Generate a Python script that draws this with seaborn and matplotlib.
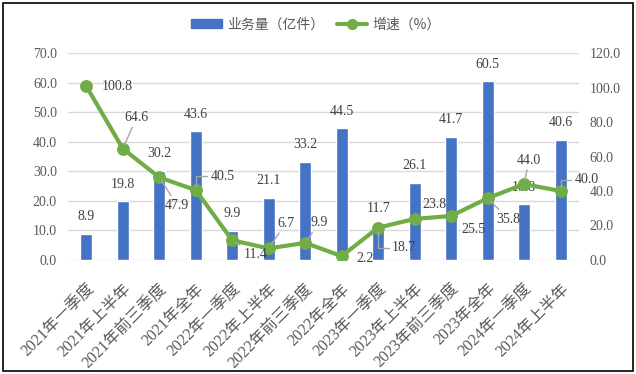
import matplotlib
matplotlib.use("Agg")
import matplotlib.pyplot as plt
from matplotlib.lines import Line2D
from matplotlib.patches import Patch, Rectangle
import seaborn as sns
import pandas as pd

periods = ["2021年一季度", "2021年上半年", "2021年前三季度", "2021年全年",
           "2022年一季度", "2022年上半年", "2022年前三季度", "2022年全年",
           "2023年一季度", "2023年上半年", "2023年前三季度", "2023年全年",
           "2024年一季度", "2024年上半年"]
volume = [8.9, 19.8, 30.2, 43.6, 9.9, 21.1, 33.2, 44.5, 11.7, 26.1, 41.7, 60.5, 18.8, 40.6]
growth = [100.8, 64.6, 47.9, 40.5, 11.4, 6.7, 9.9, 2.2, 18.7, 23.8, 25.5, 35.8, 44.0, 40.0]

df = pd.DataFrame({"period": periods, "volume": volume, "growth": growth})

sns.set_theme(style="white")
plt.rcParams["font.family"] = ["Liberation Serif", "Noto Sans CJK SC"]

BAR = "#4472C4"
LINE = "#70AD47"
TXT = "#404040"
GRID = "#D9D9D9"

fig = plt.figure(figsize=(6.36, 3.74), dpi=100)
ax = fig.add_axes([0.107, 0.305, 0.803, 0.553])

sns.barplot(data=df, x="period", y="volume", color=BAR, width=0.33,
            saturation=1, ax=ax, zorder=2)
ax.set_ylim(0, 70)
ax.set_yticks(range(0, 71, 10))
ax.set_yticklabels([f"{v:.1f}" for v in range(0, 71, 10)])
ax.grid(axis="y", color=GRID, linewidth=1, zorder=0)
ax.set_axisbelow(True)
for s in ax.spines.values():
    s.set_visible(False)
ax.set_xlabel("")
ax.set_ylabel("")
ax.tick_params(axis="y", length=0, labelsize=10, labelcolor="#595959", pad=8)
ax.tick_params(axis="x", length=0, labelsize=11.5, labelcolor="#595959", pad=15)
plt.setp(ax.get_xticklabels(), rotation=45, ha="right", rotation_mode="anchor")

for i, v in enumerate(volume):
    ax.annotate(f"{v:.1f}", (i, v), xytext=(0, 17), textcoords="offset pixels",
                ha="center", va="center", fontsize=10, color=TXT)

ax2 = ax.twinx()
sns.pointplot(data=df, x="period", y="growth", color=LINE, ax=ax2,
              markers="o", markersize=7, linewidth=3)
ax2.set_ylim(0, 120)
ax2.set_yticks(range(0, 121, 20))
ax2.set_yticklabels([f"{v:.1f}" for v in range(0, 121, 20)])
for s in ax2.spines.values():
    s.set_visible(False)
ax2.set_ylabel("")
ax2.tick_params(axis="y", length=0, labelsize=10, labelcolor="#595959", pad=8)
ax.set_xlim(-0.5, len(periods) - 0.5)
ax2.set_xlim(-0.5, len(periods) - 0.5)

# label offsets in pixels (dx right, dy down) and leader style
offsets = [(31, 0, None), (14, -31, "arc3"), (18, 28, "arc3"), (27, -14, "elbow"),
           (23, 14, "arc3"), (17, -25, "arc3"), (14, -20, "arc3"), (23, 2, None),
           (26, 20, "elbow"), (20, -14, None), (22, 14, None), (21, 21, "arc3"),
           (5, -24, "arc3"), (26, -11, "elbow")]
for i, (g, (dx, dy, lead)) in enumerate(zip(growth, offsets)):
    kw = {}
    if lead:
        conn = "arc3" if lead == "arc3" else "angle,angleA=0,angleB=90,rad=0"
        kw["arrowprops"] = dict(arrowstyle="-", color="#A6A6A6", lw=1.0,
                                shrinkA=0, shrinkB=3, connectionstyle=conn)
    ax2.annotate(f"{g:.1f}", (i, g), xytext=(dx, -dy), textcoords="offset pixels",
                 ha="center", va="center", fontsize=10, color=TXT, **kw)

handles = [Patch(color=BAR, label="业务量（亿件）"),
           Line2D([], [], color=LINE, lw=3, marker="o", markersize=7, label="增速（%）")]
leg = fig.legend(handles=handles, loc="center", bbox_to_anchor=(0.497, 0.935), ncol=2,
                 frameon=False, handlelength=2.2, handleheight=0.6, handletextpad=0.4,
                 columnspacing=0.9, prop={"family": ["Noto Sans CJK SC"], "size": 10})
for t in leg.get_texts():
    t.set_color("#595959")

fig.patches.append(Rectangle((0.005, 0.008), 0.99, 0.984, transform=fig.transFigure,
                             fill=False, edgecolor="black", linewidth=1.2))

fig.savefig("out.png", dpi=100)
